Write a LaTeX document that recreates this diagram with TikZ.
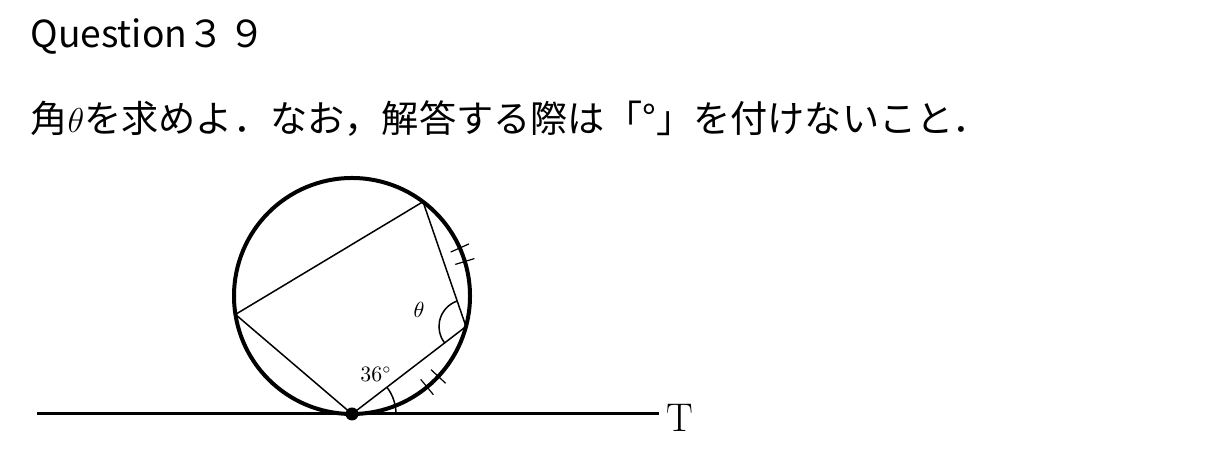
\documentclass[tikz,border=0pt]{standalone}
\usepackage{fontspec}
\newfontfamily\jpfont{Noto Sans CJK JP}
\usetikzlibrary{angles}

\begin{document}
\begin{tikzpicture}[x=0.5pt, y=0.5pt]
			\tikzset{
				heading/.style={anchor=base west, inner sep=0pt, font=\jpfont\fontsize{18.6}{22}\selectfont},
				rim/.style={line width=2pt},
				chord/.style={line width=0.75pt},
				tangent/.style={line width=1.5pt},
				tick/.style={line width=0.6pt},
				anglemark/.style={draw, line width=0.75pt},
				label/.style={inner sep=0pt, font=\fontsize{10.5}{12}\selectfont},
			}
			\useasboundingbox (0,0) rectangle (1230,458);
			\node[heading](title) at (30,410) {Question３\kern2pt ９};
			\node[heading](task) at (30,325) {角$\theta$を求めよ．なお，解答する際は「°」を付けないこと．};
			%Points on the circle
			\coordinate (O) at (352,162);
			\coordinate (P) at ([shift={(-90:118)}]O);
			\coordinate (A) at ([shift={(189:118)}]O);
			\coordinate (B) at ([shift={(53:118)}]O);
			\coordinate (C) at ([shift={(-15:118)}]O);
			\coordinate (left) at (37,44);
			\coordinate (right) at (659,44);
			%Draw figure
			\draw[rim] (O) circle (118);
			\draw[chord] (P) -- (A) -- (B) -- (C) -- cycle;
			\draw[tangent] (left) -- (right);
			\fill (P) circle (6.5);
			\node[anchor=west, font=\fontsize{20}{24}\selectfont](T) at ([yshift=-2pt]right) {T};
			\foreach \a in {17,24,-43,-50.5}
				\draw[tick] ([shift={(\a:108)}]O) -- ([shift={(\a:128)}]O);
			\pic[anglemark, angle radius=13.5pt] {angle=B--C--P};
			\pic[anglemark, angle radius=22pt] {angle=right--P--C};
			\node[label](theta) at (419,148) {$\theta$};
			\node[label](deg) at (376,84) {$36^\circ$};
		\end{tikzpicture}
\end{document}
